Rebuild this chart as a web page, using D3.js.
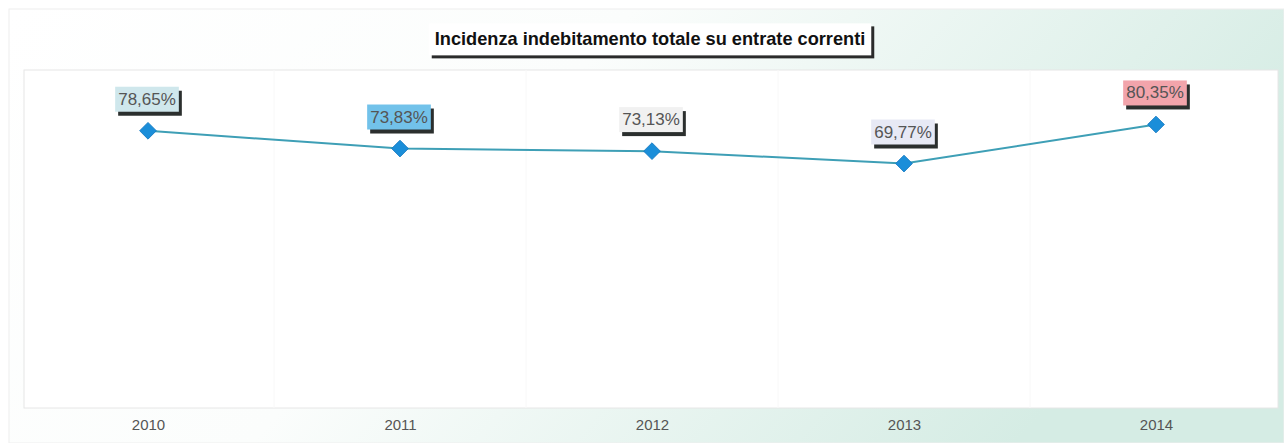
<!DOCTYPE html>
<html><head><meta charset="utf-8">
<script src="https://cdn.jsdelivr.net/npm/d3@7"></script>
<style>html,body{margin:0;padding:0;background:#fff;}svg{display:block;}</style>
</head><body>
<svg id="c" width="1284" height="443"></svg>
<script>
const title = "Incidenza indebitamento totale su entrate correnti";
const years = ["2010", "2011", "2012", "2013", "2014"];
const values = [78.65, 73.83, 73.13, 69.77, 80.35];
const labelFills = ["#cfe7ec", "#72c2ea", "#f1f1f1", "#e7e9f5", "#f2a4ab"];

const svg = d3.select("#c");
const W = 1284, H = 443;
const defs = svg.append("defs");
const g1 = defs.append("linearGradient").attr("id", "bg").attr("x1", "0").attr("x2", "1").attr("y1", "0").attr("y2", "0.3");
g1.append("stop").attr("offset", "0").attr("stop-color", "#ffffff");
g1.append("stop").attr("offset", "0.45").attr("stop-color", "#fbfdfc");
g1.append("stop").attr("offset", "1").attr("stop-color", "#d5ece4");

svg.append("rect").attr("width", W).attr("height", H).attr("fill", "#fff");
svg.append("rect").attr("x", 9).attr("y", 9).attr("width", W - 9).attr("height", H - 9).attr("fill", "url(#bg)")
  .attr("stroke", "#eeeeee").attr("stroke-width", 1);

// plot area
const plot = {x0: 24, x1: 1278, y0: 70, y1: 408};
svg.append("rect").attr("x", plot.x0).attr("y", plot.y0).attr("width", plot.x1 - plot.x0).attr("height", plot.y1 - plot.y0)
  .attr("fill", "#ffffff").attr("stroke", "#e6e6e6").attr("stroke-width", 1);

const x = d3.scalePoint().domain(years).range([148, 1156]);
const y = d3.scaleLinear().domain([0, 100]).range([421, 52]);

// faint verticals between categories
svg.append("g").selectAll("line").data(years.slice(1)).join("line")
  .attr("x1", d => x(d) - x.step() / 2).attr("x2", d => x(d) - x.step() / 2)
  .attr("y1", plot.y0).attr("y2", plot.y1)
  .attr("stroke", "#f8f8f8").attr("stroke-width", 1);

// x axis
const xAxis = svg.append("g").attr("transform", `translate(0,${plot.y1})`)
  .call(d3.axisBottom(x).tickSize(0).tickPadding(11));
xAxis.select(".domain").remove();
xAxis.selectAll("text").attr("font-family", "Liberation Sans, Arial, sans-serif").attr("font-size", 15).attr("fill", "#555");

// line
const data = years.map((d, i) => ({year: d, v: values[i], fill: labelFills[i]}));
svg.append("path").datum(data)
  .attr("d", d3.line().x(d => x(d.year)).y(d => y(d.v)))
  .attr("fill", "none").attr("stroke", "#3e9fb6").attr("stroke-width", 2);

// markers
svg.append("g").selectAll("path").data(data).join("path")
  .attr("d", d3.symbol().type(d3.symbolSquare).size(140))
  .attr("transform", d => `translate(${x(d.year)},${y(d.v)}) rotate(45)`)
  .attr("fill", "#1b8ed9").attr("stroke", "#1478c0").attr("stroke-width", 0.8);

// labels
const fmt = v => d3.format(".2f")(v).replace(".", ",") + "%";
const lab = svg.append("g").selectAll("g").data(data).join("g")
  .attr("transform", d => `translate(${x(d.year) - 1},${y(d.v) - 32})`);
lab.each(function(d) {
  const gg = d3.select(this);
  const t = gg.append("text").text(fmt(d.v))
    .attr("text-anchor", "middle").attr("dy", "0.35em")
    .attr("font-family", "Liberation Sans, Arial, sans-serif").attr("font-size", 17).attr("fill", "#555");
  const bb = t.node().getBBox();
  const pad = 3;
  gg.insert("rect", "text").attr("x", bb.x - pad + 3).attr("y", bb.y - pad + 4)
    .attr("width", bb.width + 2 * pad).attr("height", bb.height + 2 * pad).attr("fill", "#2b2f2e");
  gg.insert("rect", "text").attr("x", bb.x - pad).attr("y", bb.y - pad)
    .attr("width", bb.width + 2 * pad).attr("height", bb.height + 2 * pad).attr("fill", d.fill);
});

// title
const tg = svg.append("g").attr("transform", "translate(650,39)");
const tt = tg.append("text").text(title).attr("text-anchor", "middle").attr("dy", "0.35em")
  .attr("font-family", "Liberation Sans, Arial, sans-serif").attr("font-weight", "bold").attr("font-size", 18.2).attr("fill", "#111");
const tb = tt.node().getBBox();
tg.insert("rect", "text").attr("x", tb.x - 6 + 3).attr("y", tb.y - 6 + 3).attr("width", tb.width + 12).attr("height", tb.height + 12).attr("fill", "#2b2b2b");
tg.insert("rect", "text").attr("x", tb.x - 6).attr("y", tb.y - 6).attr("width", tb.width + 12).attr("height", tb.height + 12).attr("fill", "#fff");
</script>
</body></html>
